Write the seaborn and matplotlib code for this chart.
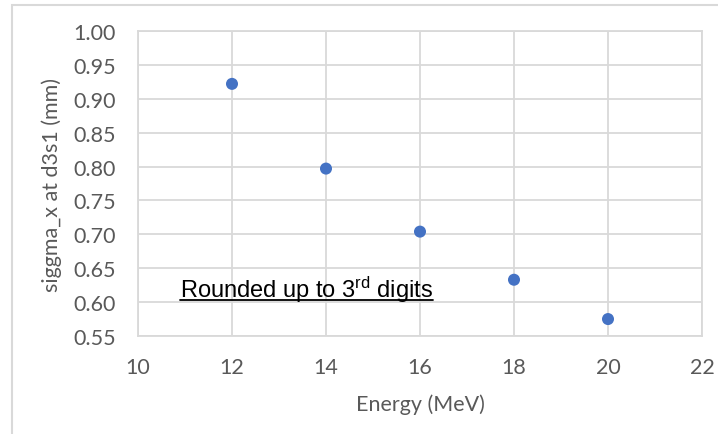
import matplotlib
matplotlib.use("Agg")
import matplotlib.pyplot as plt
import seaborn as sns
import pandas as pd
from matplotlib.patches import Rectangle
from matplotlib.lines import Line2D

energy = [12, 14, 16, 18, 20]
sigma_x = [0.922, 0.797, 0.704, 0.633, 0.575]
x_ticks = [10, 12, 14, 16, 18, 20, 22]
y_ticks = [0.55, 0.60, 0.65, 0.70, 0.75, 0.80, 0.85, 0.90, 0.95, 1.00]

df = pd.DataFrame({"Energy": energy, "sigma": sigma_x})

sns.set_theme(style="white")
plt.rcParams['font.family'] = ['Lato', 'DejaVu Sans']
plt.rcParams['mathtext.fontset'] = 'custom'
plt.rcParams['mathtext.rm'] = 'Liberation Sans'
plt.rcParams['mathtext.it'] = 'Liberation Sans'

fig = plt.figure(figsize=(7.18, 4.35), dpi=100)
ax = fig.add_axes([138/718, 1-337/435, (702-138)/718, (337-32)/435])

grid_c = "#d9d9d9"
text_c = "#595959"

sns.scatterplot(data=df, x="Energy", y="sigma", ax=ax, color="#4472c4",
                s=75, edgecolor="none", zorder=3)

ax.set_xlim(10, 22)
ax.set_ylim(0.55, 1.00)
ax.set_xticks(x_ticks)
ax.set_yticks(y_ticks)
ax.set_xticklabels([str(t) for t in x_ticks])
ax.set_yticklabels([f"{t:.2f}" for t in y_ticks])
ax.grid(True, color=grid_c, linewidth=1.3)
ax.set_axisbelow(True)
for s in ax.spines.values():
    s.set_color(grid_c)
    s.set_linewidth(1.3)
ax.tick_params(axis="y", length=0, labelsize=15.5, colors=text_c, pad=16)
ax.tick_params(axis="x", length=0, labelsize=15.5, colors=text_c, pad=15)
ax.set_xlabel("Energy (MeV)", fontsize=15.5, color=text_c, labelpad=12)
ax.set_ylabel("siggma_x at d3s1 (mm)", fontsize=15.5, color=text_c, labelpad=8)

tx, ty = 10.89, 0.6076
note = ax.text(tx, ty, r"$\mathrm{Rounded\ up\ to\ 3^{rd}\ digits}$",
               fontsize=17, color="black", va="baseline", ha="left")

fig.patches.append(Rectangle((12/718, -0.01), 1.0, 1-6/435+0.01,
                             transform=fig.transFigure, fill=False,
                             edgecolor=grid_c, linewidth=1.5))

fig.canvas.draw()
bb = note.get_window_extent(renderer=fig.canvas.get_renderer())
bb_fig = bb.transformed(fig.transFigure.inverted())
base = ax.transData.transform((tx, ty))
base_fig = fig.transFigure.inverted().transform(base)
uy = base_fig[1] - 3/435
fig.lines.append(Line2D([bb_fig.x0, bb_fig.x1], [uy, uy],
                        transform=fig.transFigure, color="black", linewidth=1.3))

fig.savefig("out.png", dpi=100)
